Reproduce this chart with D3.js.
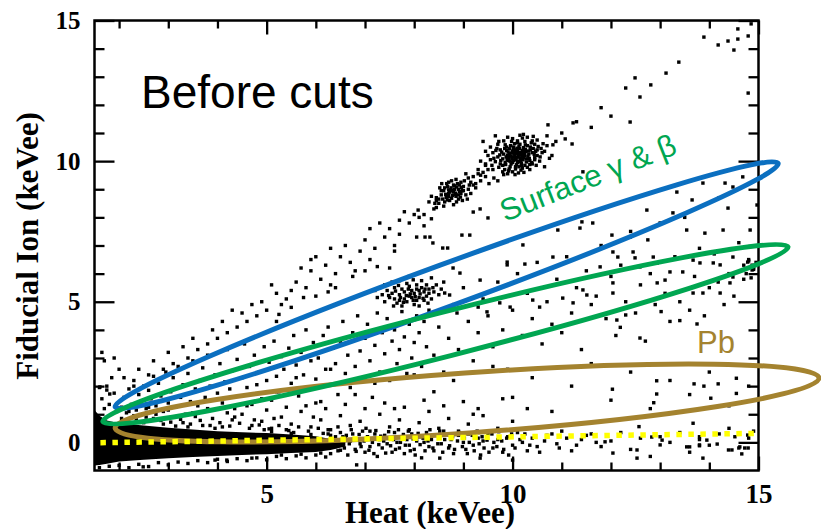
<!DOCTYPE html>
<html><head><meta charset="utf-8">
<script src="https://cdn.jsdelivr.net/npm/d3@7"></script>
<style>body{margin:0;background:#fff}svg{display:block}</style>
</head><body><svg id="c" width="821" height="529"></svg>
<script>
// ---------- data (keVee) ----------
const xDomain = [1.5, 15];
const yDomain = [-1, 15];
const xMajorTicks = [5, 10, 15];
const yMajorTicks = [0, 5, 10, 15];
const xMinorTicks = [2,3,4,6,7,8,9,11,12,13,14];
const yMinorTicks = [1,2,3,4,6,7,8,9,11,12,13,14];
const xTitle = "Heat (keVee)";
const yTitle = "Fiducial Ion (keVee)";
const panelTitle = "Before cuts";
const surfaceLabel = "Surface \u03b3 & \u03b2";
const pbLabel = "Pb";

// saturated heat-only / noise band around ion = 0
const bandX  = [1.5, 1.6, 1.75, 2.0, 2.5, 3.0, 3.5, 4.0, 4.5, 5.0, 5.5, 6.0, 6.3, 6.6];
const bandHi = [1.15, 0.95, 0.78, 0.68, 0.6, 0.52, 0.46, 0.4, 0.36, 0.33, 0.28, 0.22, 0.12, 0.02];
const bandLo = [-0.82, -0.8, -0.76, -0.68, -0.62, -0.56, -0.52, -0.48, -0.45, -0.42, -0.38, -0.34, -0.27, -0.15];

// 10.3 keV line
const peak10 = [10.05,10.1, 9.92,10.02, 10.14,10.21, 10.21,10.05, 9.98,10.29, 10.08,9.87, 9.85,9.95, 10.31,10.18, 10.02,10.42, 9.9,10.2, 10.18,9.93, 10.27,10.33, 9.95,9.8, 10.12,10.0, 10.0,10.15, 9.8,10.08, 10.35,10.02, 10.1,10.35, 9.88,10.38, 10.22,10.48, 10.4,10.3, 9.75,9.9, 10.06,9.72, 10.25,9.85, 9.96,10.55, 10.15,10.6, 10.45,10.12, 9.7,10.15, 10.3,10.55, 9.84,9.7, 10.03,10.25, 10.19,10.27, 9.93,10.12, 10.11,10.14, 10.0,9.95, 10.07,10.05, 9.97,9.9, 10.16,10.1, 10.24,10.2, 9.89,10.05, 10.04,10.32, 10.13,9.8, 9.82,10.25, 10.28,9.97, 10.36,10.4, 10.09,10.46, 9.94,10.44, 10.2,10.38, 10.33,10.25, 9.78,10.32, 10.42,10.45, 10.5,10.2, 10.47,10.35, 9.65,9.98, 9.72,9.78, 10.0,9.62, 10.17,9.68, 10.3,9.78, 9.9,9.55, 10.52,10.52, 10.38,10.65, 10.1,10.72, 9.85,10.58, 10.25,10.7, 10.45,10.6, 9.6,10.3, 9.68,10.45, 10.55,10.0, 10.6,10.3, 10.0,10.8, 10.2,10.82, 9.8,9.85, 9.95,10.0, 10.05,10.2, 10.15,10.3, 10.22,10.12, 10.1,9.95, 9.99,10.08, 10.08,10.28, 9.87,10.15, 10.26,10.42, 10.13,10.52, 10.04,10.62, 9.91,10.32, 10.34,10.1, 10.39,9.95, 10.18,9.85, 9.93,9.72, 9.8,9.62, 10.05,9.52, 10.23,9.6, 10.4,9.9, 10.45,10.05, 9.75,10.4, 9.7,10.6, 9.82,10.72, 10.3,10.85, 10.15,10.92, 9.9,10.85, 10.5,10.75, 10.58,10.45, 10.62,10.62, 9.58,9.85, 9.62,10.1, 9.55,10.5, 9.5,9.7, 9.45,9.45, 9.4,9.6, 9.35,9.3, 9.52,9.2, 9.62,9.4, 9.3,9.55, 9.7,9.3, 9.45,9.85, 9.25,9.2, 10.7,10.9, 9.4,10.7, 10.8,10.2, 10.65,9.8,
  9.96,10.18, 10.06,10.12, 10.12,10.24, 9.9,10.1, 10.02,10.02, 10.2,10.16, 10.16,9.98, 9.94,10.26, 10.08,10.4, 10.28,10.08, 9.86,9.88, 10.24,10.3, 10.32,10.36, 10.0,10.36, 9.84,10.45, 10.14,10.44, 10.36,10.5, 10.44,10.24, 10.06,9.8, 9.92,9.65, 10.2,9.75, 10.35,9.88, 9.76,10.02, 9.74,10.22, 9.66,10.38, 10.5,10.4, 10.56,10.15, 10.26,10.58, 10.02,10.5, 9.88,10.5, 10.4,10.72, 10.65,10.35, 9.72,10.7, 9.6,9.7, 10.1,10.65, 10.48,9.85, 10.12,9.58, 9.82,9.52, 10.35,9.7, 9.55,10.05, 9.5,10.2, 10.7,10.55, 10.75,10.1, 9.98,10.7, 10.22,10.95, 9.65,10.9, 10.42,10.88, 10.88,10.7, 9.45,10.35, 9.35,10.0];

// 8.98 keV line
const peak9 = [8.8,8.9, 8.7,8.85, 8.9,9.0, 8.75,9.05, 8.85,8.75, 8.65,8.7, 8.95,8.85, 8.8,9.15, 8.6,8.95, 9.0,9.1, 8.72,8.6, 8.9,8.65, 8.82,9.0, 8.68,9.1, 8.98,8.95, 8.55,8.8, 8.78,8.78, 8.88,9.2, 9.05,8.8, 8.62,8.55, 8.74,8.95, 8.92,8.92, 8.84,8.82, 8.7,8.75, 8.58,8.65, 8.95,9.25, 8.5,8.5, 9.1,9.0, 8.66,9.2, 8.86,8.55, 9.02,9.3, 8.45,8.7, 8.76,9.3, 8.6,8.4, 8.8,8.45, 9.08,8.65, 8.52,9.05, 8.72,8.9, 8.86,9.08, 8.94,8.72, 9.15,9.25, 9.2,9.45, 9.3,9.7, 9.1,9.4, 9.25,9.05, 9.35,9.5, 9.45,9.9, 9.05,9.55, 8.4,8.3, 8.3,8.55, 8.2,8.1, 8.35,7.95, 8.45,8.6, 8.0,8.1,
  8.78,8.95, 8.84,8.86, 8.7,8.98, 8.9,8.8, 8.64,8.82, 8.96,9.06, 8.82,9.12, 8.76,8.68, 9.0,8.95, 8.68,8.62, 8.55,8.95, 8.92,9.15, 8.62,9.05, 9.12,9.15, 8.5,8.65, 8.98,8.6, 8.7,9.25, 9.15,8.85, 8.42,8.5, 8.85,9.35, 8.35,8.75, 9.2,9.15, 8.56,9.2, 8.45,8.35];

// cluster near (7.9, 5.2)
const cluster8 = [7.9,5.2, 8.0,5.3, 7.8,5.1, 8.1,5.15, 7.95,5.4, 7.7,5.25, 8.2,5.35, 7.85,5.0, 8.05,5.05, 7.75,5.45, 8.15,5.5, 7.6,5.1, 8.25,5.2, 7.9,5.55, 8.3,5.45, 7.65,4.95, 8.0,4.9, 7.55,5.3, 8.35,5.1, 7.8,5.35, 7.95,5.15, 8.1,5.4, 7.7,5.05, 8.05,5.6, 7.5,5.15, 7.85,5.65, 8.2,5.05, 7.45,5.4, 8.4,5.35, 7.6,5.5, 8.1,4.85, 7.4,5.0, 7.75,4.85, 8.25,5.6, 7.35,5.25, 8.45,5.6, 7.3,5.5, 8.15,5.75, 7.55,5.7, 7.98,5.78,
  7.92,5.28, 8.02,5.18, 7.84,5.22, 8.12,5.28, 7.72,5.15, 8.22,5.45, 7.88,5.45, 7.62,5.38, 8.3,5.3, 7.98,5.05, 7.78,4.98, 8.18,5.12, 8.05,5.45, 7.68,5.58, 8.38,5.5, 7.48,5.22, 8.5,5.25, 7.4,5.6, 8.28,4.95, 7.58,4.85, 8.55,5.45, 7.25,5.15, 7.2,5.4, 8.6,5.7, 7.9,5.9, 8.35,5.85, 7.7,5.75];

// bulk gamma events (ion ~ heat)
const gammaEvents = [2.1,2.3, 2.3,2.0, 2.4,2.6, 2.6,2.4, 2.7,2.9, 2.9,2.6, 3.0,3.2, 3.1,2.8, 3.3,3.4, 3.4,3.0, 3.5,3.7, 3.6,3.3, 3.8,3.5, 3.9,4.0, 4.0,3.7, 4.1,4.3, 4.2,3.9, 4.4,4.1, 4.5,4.6, 4.6,4.3, 4.8,4.5, 4.9,5.0, 5.0,4.7, 5.2,5.3, 5.3,4.9, 5.5,5.4, 5.6,5.7, 5.8,5.5, 5.9,6.1, 6.1,5.8, 6.2,6.3, 6.4,6.0, 6.5,6.6, 6.7,6.4, 6.9,6.8, 7.0,7.2, 7.2,6.9, 7.4,7.3, 7.5,7.6, 7.7,7.4, 7.9,7.8, 8.1,8.0, 8.2,7.7, 4.3,4.7, 4.7,4.9, 5.1,5.6, 5.4,5.1, 5.7,6.2, 6.0,6.6, 6.3,5.6, 6.6,7.0, 6.8,6.1, 7.1,6.5, 7.3,7.8, 7.6,6.8, 7.8,8.2, 8.05,7.3, 5.25,4.55, 5.75,5.15, 6.25,5.35, 6.75,5.9, 7.25,6.25, 7.7,7.9, 8.08,8.26, 8.22,7.3, 8.32,7.3, 8.38,7.09, 8.58,6.91, 8.68,6.91, 8.97,7.37, 9.13,7.37, 9.27,6.77, 9.5,7.98, 9.2,8.19, 9.34,8.3, 6.3,6.9, 7.0,6.1, 7.6,7.0, 7.1,7.6, 5.9,6.5, 6.0,5.2, 5.5,4.8, 6.4,5.5, 5.2,4.3, 7.5,6.2,
  10.72,11.29, 11.23,11.36, 11.07,10.79, 11.21,10.61, 12.39,11.39, 10.82,10.58, 11.43,9.62, 11.0,11.0, 11.3,11.4, 11.6,11.2, 11.8,11.9, 12.0,11.6, 12.3,12.6, 12.49,12.96, 12.59,12.28, 12.81,12.71, 13.12,13.13, 13.38,13.52, 13.89,14.41, 14.18,14.13, 14.38,14.27, 14.5,13.95, 14.58,14.34, 14.58,14.7, 14.79,14.45, 14.85,14.88, 14.79,12.42];

// surface gamma & beta events
const surfaceEvents = [2.05,1.25, 2.1,1.6, 2.15,1.05, 2.2,1.9, 2.25,1.35, 2.3,2.2, 2.35,1.15, 2.4,1.7, 2.45,1.45, 2.5,2.0, 2.55,1.2, 2.6,1.85, 2.65,1.55, 2.7,2.35, 2.75,1.3, 2.8,2.1, 2.85,1.65, 2.9,1.1, 2.95,2.5, 3.0,1.4, 1.8,1.35, 1.9,1.75, 1.95,1.1, 1.7,1.2, 1.65,1.55, 1.75,2.0, 1.6,1.95, 1.85,2.3, 2.0,2.6, 1.7,2.9, 1.65,3.2, 1.9,3.0, 1.61,1.97, 1.75,1.86, 1.81,1.72,
  3.05,1.8, 3.1,2.3, 3.15,1.25, 3.2,2.7, 3.25,1.6, 3.3,2.05, 3.35,1.0, 3.4,2.45, 3.45,1.45, 3.5,2.9, 3.55,1.9, 3.6,1.3, 3.65,2.2, 3.7,2.65, 3.75,1.6, 3.8,3.1, 3.85,2.0, 3.9,1.15, 3.95,2.4, 4.0,1.75,
  4.05,2.8, 4.1,1.4, 4.15,2.15, 4.2,3.3, 4.25,1.9, 4.3,2.55, 4.35,1.2, 4.4,2.95, 4.45,1.65, 4.5,2.3, 4.55,3.5, 4.6,1.95, 4.65,2.7, 4.7,1.35, 4.75,3.1, 4.8,2.05, 4.85,2.5, 4.9,1.55, 4.95,3.4, 5.0,2.2,
  5.05,2.85, 5.1,1.5, 5.15,3.6, 5.2,2.35, 5.25,1.8, 5.3,3.05, 5.35,2.6, 5.4,1.25, 5.45,3.35, 5.5,2.1, 5.55,3.8, 5.6,2.75, 5.65,1.65, 5.7,3.2, 5.75,2.4, 5.8,4.0, 5.85,1.9, 5.9,2.9, 5.95,3.55, 6.0,2.25,
  6.05,3.0, 6.1,1.45, 6.15,3.8, 6.2,2.6, 6.25,4.1, 6.3,2.05, 6.35,3.35, 6.4,2.8, 6.45,1.7, 6.5,3.6, 6.55,4.3, 6.6,2.45, 6.65,3.1, 6.7,1.95, 6.75,3.9, 6.8,2.7, 6.85,4.5, 6.9,3.25, 6.95,2.2, 7.0,3.7,
  7.05,4.2, 7.1,2.9, 7.15,1.6, 7.2,3.45, 7.25,4.6, 7.3,2.5, 7.35,3.9, 7.4,3.15, 7.45,4.4, 7.5,2.2, 7.55,3.6, 7.6,4.0, 7.65,2.8, 7.7,3.3, 7.75,4.65, 7.8,3.75, 7.85,2.45, 7.9,4.2, 7.95,3.0, 8.0,3.55, 8.05,4.5, 8.1,3.9, 8.15,2.7, 8.2,4.3, 8.25,3.4,
  8.3,4.7, 8.4,3.1, 8.5,4.1, 8.6,2.5, 8.7,3.7, 8.8,4.9, 8.9,3.3, 9.0,5.5, 9.1,4.3, 9.2,2.9, 9.3,3.9, 9.4,5.1, 9.5,4.5, 9.6,3.4, 9.7,5.7, 9.8,4.0, 9.9,2.6, 10.0,4.7, 10.1,6.0, 10.2,3.8, 10.3,5.3, 10.4,4.4, 10.5,6.4, 10.6,3.5, 10.7,5.0, 10.8,4.2, 10.9,5.8, 11.0,3.9, 11.1,6.6, 11.2,4.6, 11.3,5.5, 11.4,3.3, 11.5,6.1, 11.6,4.9, 11.7,5.2, 11.8,7.0, 11.9,4.4, 12.0,5.9, 12.1,3.8, 12.2,6.3, 12.3,5.0, 12.4,7.5, 12.5,4.6, 12.6,5.6, 12.7,3.6, 12.8,6.0, 12.9,4.9, 13.0,7.8, 13.1,5.3, 13.2,4.3, 13.3,6.6, 13.4,5.0, 13.5,8.0, 13.6,4.7, 13.7,5.9, 13.8,6.9, 13.9,4.5, 14.0,5.5, 14.1,6.7, 14.2,8.7, 14.3,4.9, 14.4,6.0, 14.5,5.2, 14.6,7.1, 14.7,5.8, 14.8,6.5, 14.9,6.2,
  9.34,5.77, 8.79,6.2, 8.93,6.02, 8.62,5.31, 8.72,5.24, 9.89,6.41, 9.89,6.31, 10.21,7.02, 10.25,6.34, 10.82,6.59, 11.41,7.84, 11.63,7.8, 11.37,7.62, 10.92,7.55, 12.73,8.26, 13.34,8.9, 13.26,8.16, 13.65,8.62, 13.87,9.22, 14.32,9.22, 14.48,9.08, 14.38,8.33, 14.68,9.44, 14.97,8.44, 13.54,7.55, 13.91,7.44, 14.28,7.55, 14.83,7.55, 12.75,7.2, 12.39,7.3, 12.45,6.77, 12.02,7.37, 12.04,6.77, 11.78,6.24, 12.14,6.59, 13.2,6.06, 13.46,6.06, 14.48,6.59, 14.78,6.41, 14.87,6.3, 14.87,6.13, 14.48,5.88, 13.67,5.31, 13.87,5.31, 14.22,5.31, 12.94,5.67, 13.1,5.77, 12.04,5.67, 12.04,5.31, 11.43,5.42, 11.51,5.24, 11.02,5.13, 11.23,4.96, 10.41,5.06, 10.55,4.81, 9.74,4.96, 9.95,4.81, 9.3,4.81, 9.48,4.64, 8.87,4.6, 13.67,6.48, 13.81,6.38, 14.08,6.38, 14.22,6.31, 12.86,6.59, 12.94,6.38, 12.49,6.56, 12.59,6.24, 14.18,5.7, 14.42,5.67, 14.7,6.3, 14.8,6.45, 14.9,6.15, 14.75,6.0, 14.85,5.85, 14.95,6.4, 12.12,4.35, 12.19,4.09, 12.3,4.53, 13.02,4.65, 13.4,4.33, 13.75,4.21, 12.59,3.71];

// low-yield events just above the band
const lowYieldEvents = [2.1,0.75, 2.3,0.95, 2.5,0.7, 2.7,0.85, 2.9,0.65, 3.1,0.9, 3.3,0.7, 3.5,1.05, 3.7,0.6, 3.9,0.85, 4.1,0.55, 4.3,0.8, 4.5,1.0, 4.7,0.6, 4.9,0.75, 5.1,0.5, 5.3,0.9, 5.5,0.65, 5.7,1.1, 5.9,0.55, 6.1,0.8, 6.3,0.45, 6.5,0.95, 6.7,0.6, 6.9,0.75, 7.1,0.4, 7.3,1.0, 7.5,0.55, 7.7,0.8, 7.9,0.45, 8.1,0.7, 8.3,1.1, 8.5,0.5, 8.7,0.85, 8.9,0.4, 9.1,0.65, 9.4,0.95, 9.7,0.5, 10.0,0.75, 10.3,1.2, 2.2,1.1, 2.6,1.25, 3.0,1.15, 3.4,0.55, 3.8,1.2, 4.2,1.05, 4.6,1.3, 5.0,1.15, 5.4,0.45, 5.8,1.3, 6.2,1.2, 6.6,1.35, 7.0,1.2, 7.4,1.4, 7.8,1.25, 8.2,1.5, 8.6,1.3, 9.0,1.45, 9.3,1.2, 9.8,1.55,
  5.2,1.8, 5.6,2.3, 6.0,1.4, 6.3,2.6, 6.8,1.7, 7.2,2.1, 7.6,1.2, 8.0,2.4, 8.4,1.8, 8.8,2.2, 9.2,1.0, 9.6,2.7, 10.0,1.6, 10.4,2.3, 10.8,1.1, 11.2,2.0, 11.6,2.8, 12.0,1.5, 12.4,2.5, 12.8,1.2, 13.2,2.2, 13.6,1.7, 14.0,2.5, 14.4,1.3, 14.8,2.0, 12.93,2.19, 12.93,1.72, 12.87,1.41, 12.03,1.89, 13.69,2.08, 13.89,2.0, 14.18,2.08, 14.03,1.57, 14.55,2.28, 14.55,1.74, 13.67,0.68, 12.57,0.56];

// band tail and edges (ion ~ 0)
const bandEvents = [6.1,0.1, 6.2,-0.2, 6.25,0.3, 6.3,-0.4, 6.35,0.0, 6.4,0.2, 6.45,-0.3, 6.5,0.35, 6.55,-0.1, 6.6,0.15, 6.65,-0.45, 6.7,0.05, 6.75,0.3, 6.8,-0.25, 6.85,0.1, 6.9,-0.05, 6.95,0.4, 7.0,-0.35, 7.05,0.2, 7.1,-0.15, 7.15,0.0, 7.2,0.3, 7.25,-0.5, 7.3,0.1, 7.35,-0.2, 7.4,0.25, 7.45,-0.05, 7.5,0.15, 7.55,-0.35, 7.6,0.35, 7.65,0.0, 7.7,-0.2, 7.75,0.2, 7.8,-0.4, 7.85,0.1, 7.9,-0.1, 7.95,0.3, 8.0,-0.25, 8.05,0.05, 8.1,0.2, 8.15,-0.55, 8.2,0.0, 8.25,0.35, 8.3,-0.15, 8.35,0.1, 8.4,-0.3, 8.5,0.2, 8.55,-0.05, 8.6,0.4, 8.7,-0.2, 8.75,0.1, 8.8,-0.4, 8.9,0.25, 9.0,0.0, 9.05,-0.25, 9.1,0.3, 9.2,-0.1, 9.3,0.15, 9.35,-0.45, 9.4,0.05, 9.5,0.3, 9.6,-0.2, 9.7,0.1, 9.8,-0.35, 9.9,0.2, 10.0,-0.1, 10.1,0.35, 10.2,0.0, 10.3,-0.3, 10.4,0.15, 10.5,-0.15, 10.7,0.25, 10.9,-0.05, 11.0,0.4, 11.2,-0.3, 11.4,0.1, 11.6,0.3, 11.8,-0.15, 12.0,0.05, 12.2,0.35, 12.4,-0.25, 12.6,0.15, 12.8,-0.5, 13.0,0.2, 13.2,0.0, 13.4,0.35, 13.6,-0.35, 13.8,0.1, 14.0,-0.1, 14.2,0.3, 14.4,0.5, 14.6,-0.2, 14.8,0.15, 14.9,0.4,
  12.04,-0.38, 12.53,-0.27, 12.53,-0.56, 13.87,-0.56, 14.66,-0.41, 10.0,-0.63, 8.52,-0.56, 9.34,-0.56, 14.62,-0.16, 14.79,-0.2, 14.46,-0.27, 13.54,-0.16, 13.8,-0.09, 13.0,-0.09, 11.88,0.02, 12.83,0.19, 13.04,0.08, 13.6,-0.16, 13.8,0.2, 13.8,-0.12, 13.95,0.08, 14.16,-0.06, 14.52,0.2, 14.39,-0.27, 14.72,-0.2, 14.78,0.26,
  1.6,-0.9, 1.8,-0.85, 2.0,-0.82, 2.2,-0.9, 2.4,-0.78, 2.6,-0.86, 2.8,-0.72, 3.0,-0.8, 3.2,-0.7, 3.4,-0.75, 3.6,-0.65, 3.8,-0.72, 4.0,-0.6, 4.2,-0.68, 4.4,-0.58, 4.6,-0.65, 4.8,-0.55, 5.0,-0.62, 5.2,-0.5, 5.4,-0.58, 5.6,-0.48, 5.8,-0.55, 6.0,-0.45, 6.2,-0.52, 2.49,-0.87, 6.83,-0.8, 3.95,-0.63, 4.19,-0.63, 4.7,-0.56,
  2.05,0.85, 2.35,0.8, 2.55,0.9, 2.85,0.78, 3.05,0.72, 3.25,0.82, 3.45,0.65, 3.65,0.78, 3.85,0.6, 4.05,0.7, 4.25,0.58, 4.45,0.68, 4.65,0.5, 4.85,0.62, 5.05,0.48, 5.25,0.6, 5.45,0.42, 5.65,0.55, 5.85,0.4, 6.05,0.5, 6.25,0.45, 6.45,0.55, 2.75,1.0, 3.55,0.92, 4.35,0.9, 5.15,0.85, 5.95,0.9, 4.75,0.8, 3.15,0.58, 3.95,0.5, 4.95,0.45, 5.55,0.35, 6.15,0.32,
  6.52,0.05, 6.58,-0.2, 6.62,0.25, 6.68,-0.05, 6.72,0.45, 6.78,0.12, 6.82,-0.32, 6.88,0.28, 6.92,-0.15, 6.98,0.05, 7.02,0.5, 7.08,-0.28, 7.12,0.12, 7.18,-0.4, 7.22,0.42, 7.28,-0.08, 7.32,0.22, 7.38,0.05, 7.42,-0.38, 7.48,0.38, 7.52,-0.12, 7.58,0.1, 7.62,-0.25, 7.68,0.45, 7.72,0.0, 7.78,0.28, 7.82,-0.1, 7.88,0.4, 7.92,-0.3, 7.98,0.12, 8.02,-0.45, 8.08,0.32, 8.12,-0.08, 8.18,0.15, 8.22,-0.3, 8.28,0.05, 8.32,0.45, 8.38,-0.2, 8.42,0.25, 8.48,-0.05, 8.52,0.4, 8.58,-0.35, 8.62,0.1, 8.68,0.3, 8.72,-0.12, 8.78,0.2, 8.82,-0.25, 8.88,0.05, 8.92,0.35, 8.98,-0.15, 9.02,0.15, 9.08,-0.4, 9.12,0.0, 9.18,0.25, 9.22,-0.3, 9.28,0.4, 9.32,-0.05, 9.38,0.2, 9.42,-0.2, 9.48,0.08, 9.52,-0.35, 9.58,0.3, 9.62,0.0, 9.68,-0.15, 9.72,0.38, 9.78,0.05, 9.82,-0.25, 9.88,0.15, 9.92,-0.45, 9.98,0.3, 10.05,-0.2, 10.15,0.1, 10.25,0.3, 10.35,-0.1, 10.45,0.2, 10.55,-0.35, 10.65,0.05, 10.8,0.3, 10.95,-0.2, 11.1,0.15, 11.3,-0.1, 11.5,0.25, 11.7,0.0,
  5.1,0.38, 5.3,-0.45, 5.5,0.32, 5.7,-0.42, 5.9,0.28, 6.1,-0.38, 6.3,0.25, 6.5,-0.28, 6.55,0.2, 6.4,-0.15];

// annotation regions (tips of the drawn ellipses, keVee)
const surfaceGammaRegion = [[1.92, 1.26], [15.40, 9.92]];
const surfaceBetaRegion  = [[1.67, 0.74], [15.60, 6.95]];
const pbRegion           = [[1.92, 0.51], [16.23, 2.29]];
const ionThreshold       = [[1.62, -0.01], [14.95, 0.32]];

// ---------- drawing ----------
const svg = d3.select("#c");
svg.append("rect").attr("width", 821).attr("height", 529).attr("fill", "#fff");

const L = 94.5, R = 758.5, T = 20.5, B = 470.5;
const x = d3.scaleLinear().domain(xDomain).range([L, R]);
const y = d3.scaleLinear().domain(yDomain).range([B, T]);

svg.append("clipPath").attr("id", "clip")
  .append("rect").attr("x", L).attr("y", T).attr("width", R - L).attr("height", B - T);

const plot = svg.append("g").attr("clip-path", "url(#clip)");

// band
const band = bandX.map((v, i) => ({x: v, lo: bandLo[i], hi: bandHi[i]}));
plot.append("path").datum(band)
  .attr("d", d3.area().x(d => x(d.x)).y0(d => y(d.lo)).y1(d => y(d.hi)))
  .attr("fill", "#000");

function pairs(arr) { const o = []; for (let i = 0; i + 1 < arr.length; i += 2) o.push({x: arr[i], y: arr[i + 1]}); return o; }
const allPoints = [].concat(pairs(bandEvents), pairs(lowYieldEvents), pairs(surfaceEvents),
  pairs(gammaEvents), pairs(cluster8), pairs(peak9), pairs(peak10));
const s = 3.4;
plot.selectAll("rect.pt").data(allPoints).enter().append("rect")
  .attr("class", "pt")
  .attr("x", d => x(d.x) - s / 2).attr("y", d => y(d.y) - s / 2)
  .attr("width", s).attr("height", s).attr("fill", "#000");

// frame + ticks
const tickStyle = g => { g.select(".domain").remove(); g.selectAll("line").attr("stroke", "#000").attr("stroke-width", 2.3); };
const lblFont = "'Liberation Serif','Times New Roman',serif";
svg.append("g").attr("transform", `translate(0,${B})`)
  .call(d3.axisBottom(x).tickValues(xMinorTicks).tickSize(-8).tickFormat("")).call(tickStyle);
svg.append("g").attr("transform", `translate(0,${B})`)
  .call(d3.axisBottom(x).tickValues(xMajorTicks).tickSize(-14).tickPadding(13).tickFormat(d3.format("d"))).call(tickStyle)
  .selectAll("text").attr("font-family", lblFont).attr("font-weight", "bold").attr("font-size", 27).attr("fill", "#000");
svg.append("g").attr("transform", `translate(0,${T})`)
  .call(d3.axisTop(x).tickValues(xMinorTicks).tickSize(-8).tickFormat("")).call(tickStyle);
svg.append("g").attr("transform", `translate(0,${T})`)
  .call(d3.axisTop(x).tickValues(xMajorTicks).tickSize(-14).tickFormat("")).call(tickStyle);
svg.append("g").attr("transform", `translate(${L},0)`)
  .call(d3.axisLeft(y).tickValues(yMinorTicks).tickSize(-10).tickFormat("")).call(tickStyle);
svg.append("g").attr("transform", `translate(${L},0)`)
  .call(d3.axisLeft(y).tickValues(yMajorTicks).tickSize(-20).tickPadding(14).tickFormat(d3.format("d"))).call(tickStyle)
  .selectAll("text").attr("font-family", lblFont).attr("font-weight", "bold").attr("font-size", 25).attr("fill", "#000");
svg.append("g").attr("transform", `translate(${R},0)`)
  .call(d3.axisRight(y).tickValues(yMinorTicks).tickSize(-10).tickFormat("")).call(tickStyle);
svg.append("g").attr("transform", `translate(${R},0)`)
  .call(d3.axisRight(y).tickValues(yMajorTicks).tickSize(-20).tickFormat("")).call(tickStyle);
svg.append("rect").attr("x", L).attr("y", T).attr("width", R - L).attr("height", B - T)
  .attr("fill", "none").attr("stroke", "#000").attr("stroke-width", 2.5);

// axis titles
svg.append("text").attr("x", 430).attr("y", 523).attr("text-anchor", "middle")
  .attr("font-family", lblFont).attr("font-weight", "bold").attr("font-size", 31).attr("fill", "#000").text(xTitle);
svg.append("text").attr("transform", "translate(38,246) rotate(-90)").attr("text-anchor", "middle")
  .attr("font-family", lblFont).attr("font-weight", "bold").attr("font-size", 31).attr("fill", "#000").text(yTitle);

// ellipses
function region(tips, halfWidth, color) {
  const x0 = x(tips[0][0]), y0 = y(tips[0][1]), x1 = x(tips[1][0]), y1 = y(tips[1][1]);
  const cx = (x0 + x1) / 2, cy = (y0 + y1) / 2;
  const a = Math.hypot(x1 - x0, y1 - y0) / 2;
  const ang = Math.atan2(y1 - y0, x1 - x0) * 180 / Math.PI;
  svg.append("ellipse").attr("cx", cx).attr("cy", cy).attr("rx", a).attr("ry", halfWidth)
    .attr("transform", `rotate(${ang} ${cx} ${cy})`)
    .attr("fill", "none").attr("stroke", color).attr("stroke-width", 5);
}
const BLUE = "#0b6fc0", GREEN = "#00a651", BROWN = "#a4832f";
region(pbRegion, 30, BROWN);
region(surfaceGammaRegion, 21, BLUE);
region(surfaceBetaRegion, 22, GREEN);

// yellow threshold line
svg.append("path").datum(ionThreshold)
  .attr("d", d3.line().x(d => x(d[0])).y(d => y(d[1])))
  .attr("stroke", "#ffff00").attr("stroke-width", 5.5).attr("stroke-dasharray", "5.5 6.5").attr("fill", "none");

// annotations
const sans = "'Liberation Sans',Arial,Helvetica,sans-serif";
svg.append("text").attr("x", 141).attr("y", 108).attr("font-family", sans).attr("font-size", 46).attr("fill", "#000").text(panelTitle);
svg.append("text").attr("transform", "translate(505,222) rotate(-21.6)").attr("font-family", sans).attr("font-size", 31).attr("fill", GREEN).text(surfaceLabel);
svg.append("text").attr("x", 697).attr("y", 353).attr("font-family", sans).attr("font-size", 31).attr("fill", BROWN).text(pbLabel);
</script></body></html>
